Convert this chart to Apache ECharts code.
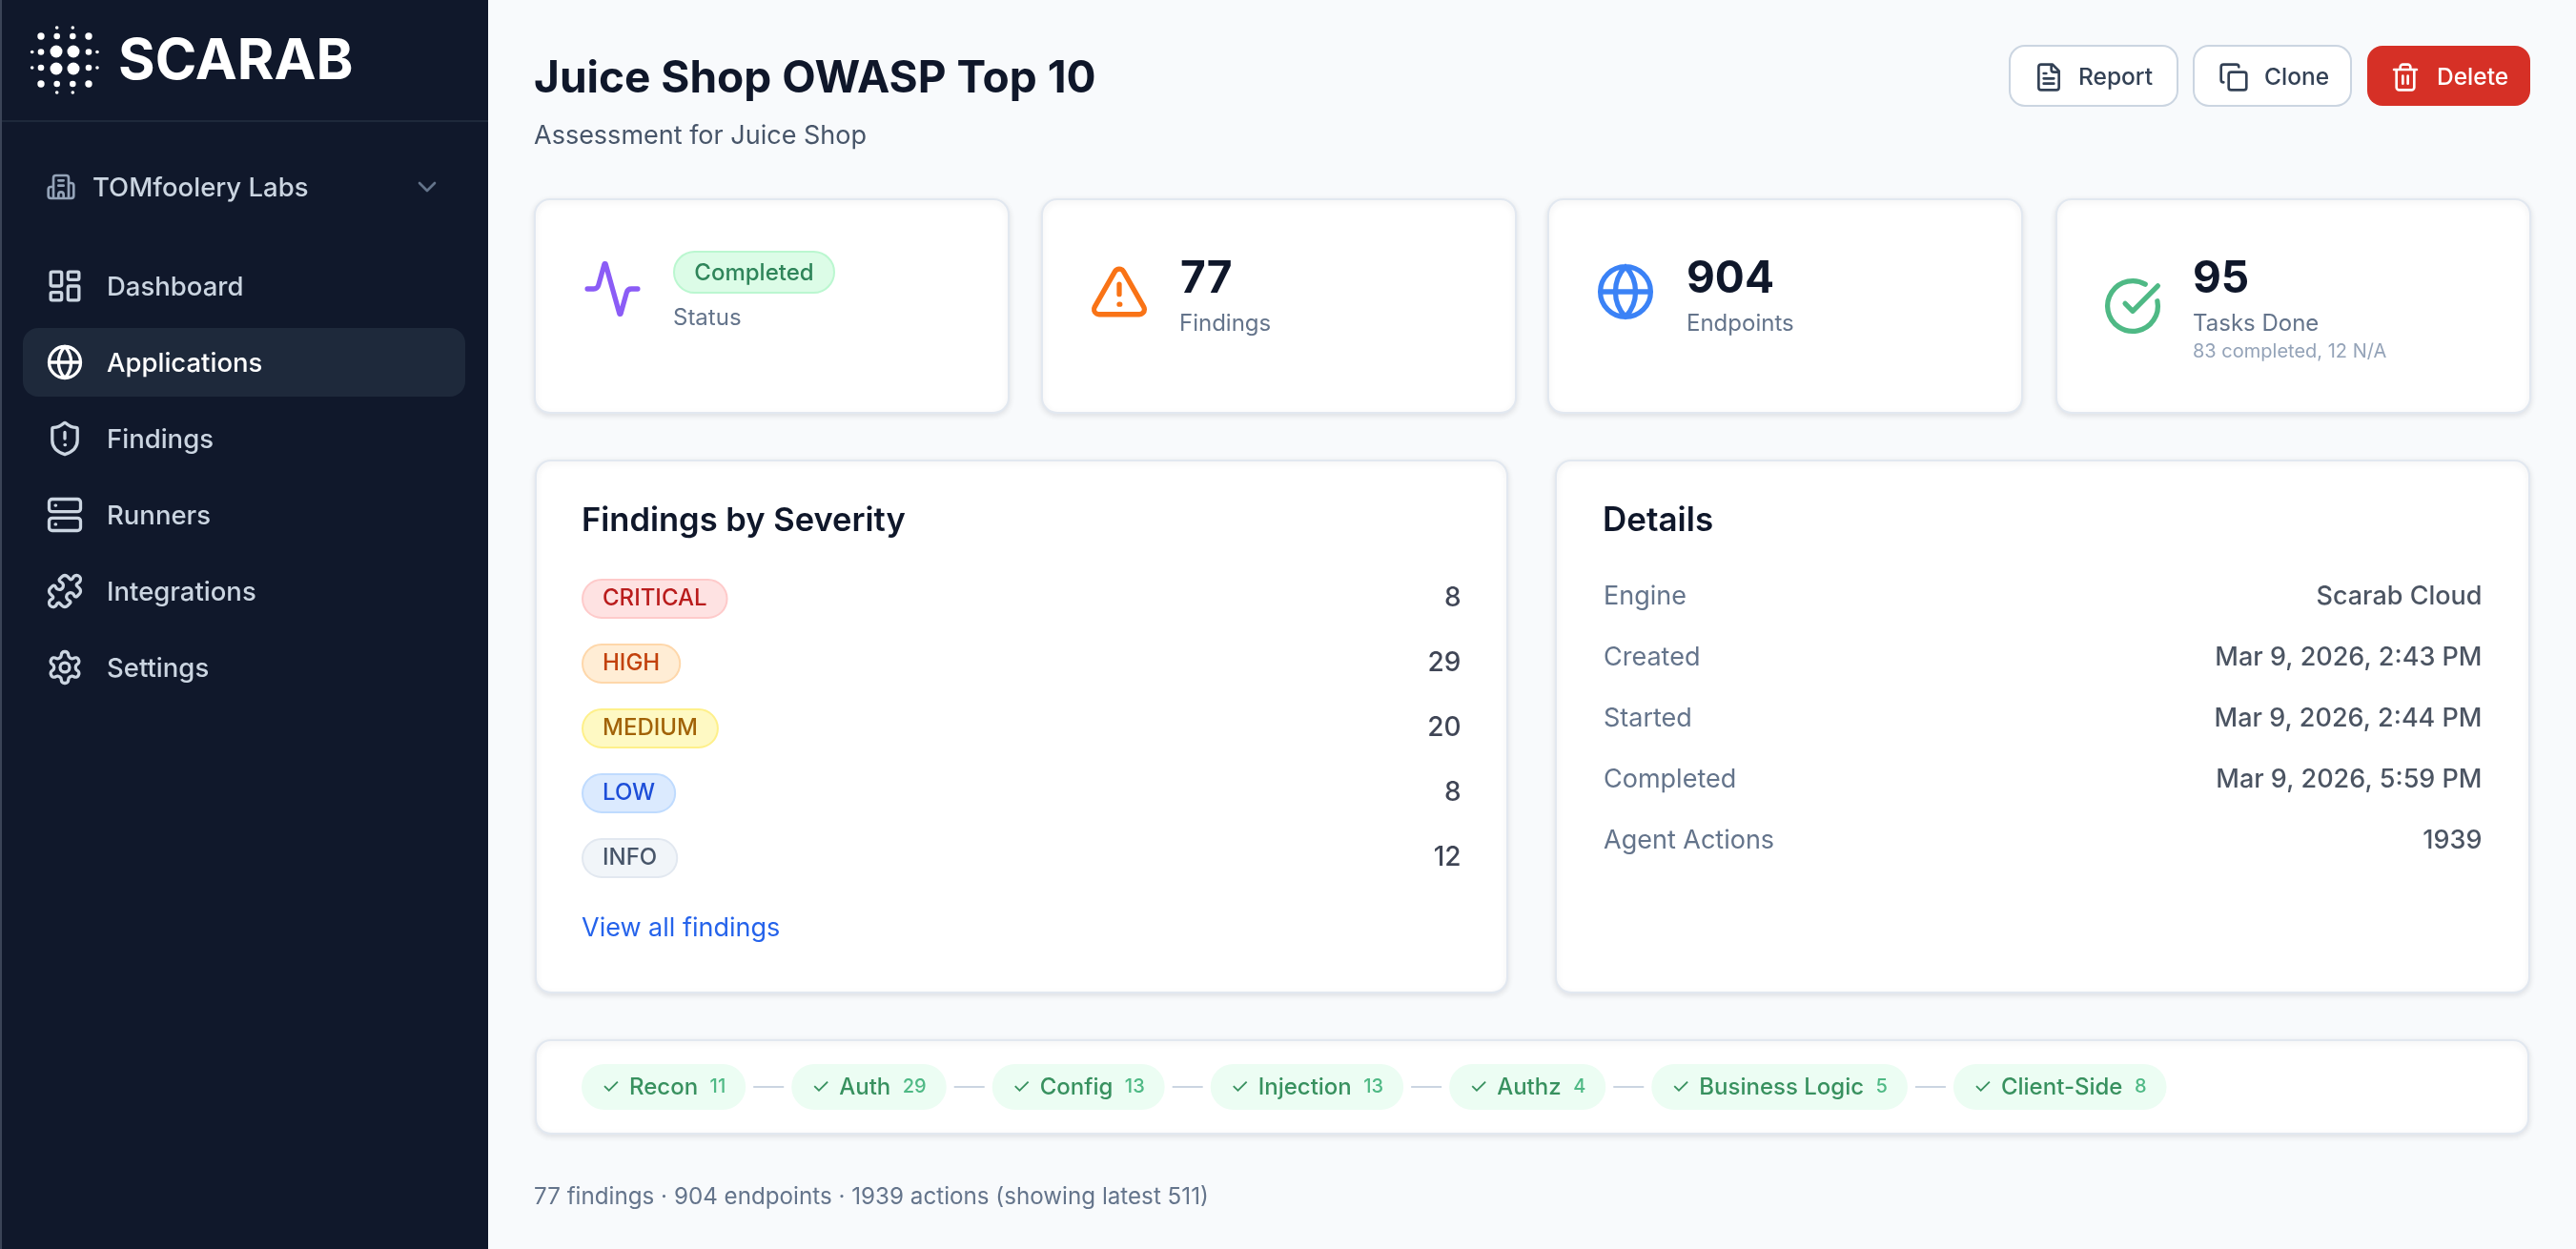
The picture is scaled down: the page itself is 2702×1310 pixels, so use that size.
<!DOCTYPE html>
<html>
<head>
<meta charset="utf-8">
<title>Juice Shop OWASP Top 10</title>
<script src="https://cdn.jsdelivr.net/npm/echarts@6/dist/echarts.min.js"></script>
<style>
html, body { margin: 0; padding: 0; background: #f8fafc; }
#main { width: 2702px; height: 1310px; }
</style>
</head>
<body>
<div id="main"></div>
<script>
const FONT = 'Inter';

// data
const navItems = ['Dashboard', 'Applications', 'Findings', 'Runners', 'Integrations', 'Settings'];
const navIcons = ['dashboard', 'globe', 'shield', 'server', 'puzzle', 'settings'];
const activeNav = 'Applications';

const statLabels = ['Status', 'Findings', 'Endpoints', 'Tasks Done'];
const statValues = ['Completed', 77, 904, 95];
const tasksNote = '83 completed, 12 N/A';

const severityLevels = ['CRITICAL', 'HIGH', 'MEDIUM', 'LOW', 'INFO'];
const severityCounts = [8, 29, 20, 8, 12];

const detailKeys = ['Engine', 'Created', 'Started', 'Completed', 'Agent Actions'];
const detailValues = ['Scarab Cloud', 'Mar 9, 2026, 2:43 PM', 'Mar 9, 2026, 2:44 PM', 'Mar 9, 2026, 5:59 PM', '1939'];

const stageNames = ['Recon', 'Auth', 'Config', 'Injection', 'Authz', 'Business Logic', 'Client-Side'];
const stageCounts = [11, 29, 13, 13, 4, 5, 8];
const actionsShown = 511;

const severityColors = {
    CRITICAL: ['#b91c1c', '#fee2e2', '#fecaca'],
    HIGH: ['#c2410c', '#ffedd5', '#fed7aa'],
    MEDIUM: ['#a16207', '#fef9c3', '#fef08a'],
    LOW: ['#1d4ed8', '#dbeafe', '#bfdbfe'],
    INFO: ['#475569', '#f1f5f9', '#e2e8f0']
};

const ICONS = {
    dashboard: 'M4 3h5a1 1 0 0 1 1 1v7a1 1 0 0 1-1 1H4a1 1 0 0 1-1-1V4a1 1 0 0 1 1-1z M15 3h5a1 1 0 0 1 1 1v3a1 1 0 0 1-1 1h-5a1 1 0 0 1-1-1V4a1 1 0 0 1 1-1z M15 12h5a1 1 0 0 1 1 1v7a1 1 0 0 1-1 1h-5a1 1 0 0 1-1-1v-7a1 1 0 0 1 1-1z M4 16h5a1 1 0 0 1 1 1v3a1 1 0 0 1-1 1H4a1 1 0 0 1-1-1v-3a1 1 0 0 1 1-1z',
    globe: 'M22 12a10 10 0 1 1-20 0 10 10 0 1 1 20 0z M12 2a14.5 14.5 0 0 0 0 20 14.5 14.5 0 0 0 0-20 M2 12h20',
    shield: 'M20 13c0 5-3.5 7.5-7.66 8.95a1 1 0 0 1-.67-.01C7.5 20.5 4 18 4 13V6a1 1 0 0 1 1-1c2 0 4.5-1.2 6.24-2.72a1.17 1.17 0 0 1 1.52 0C14.51 3.81 17 5 19 5a1 1 0 0 1 1 1z M12 8v4 M12 16h.3',
    server: 'M4 2h16a2 2 0 0 1 2 2v4a2 2 0 0 1-2 2H4a2 2 0 0 1-2-2V4a2 2 0 0 1 2-2z M4 14h16a2 2 0 0 1 2 2v4a2 2 0 0 1-2 2H4a2 2 0 0 1-2-2v-4a2 2 0 0 1 2-2z M6 6h.3 M6 18h.3',
    puzzle: 'M19.439 7.85c-.049.322.059.648.289.878l1.568 1.568c.47.47.706 1.087.706 1.704s-.235 1.233-.706 1.704l-1.611 1.611a.98.98 0 0 1-.837.276c-.47-.07-.802-.48-.968-.925a2.501 2.501 0 1 0-3.214 3.214c.446.166.855.497.925.968a.979.979 0 0 1-.276.837l-1.61 1.61a2.404 2.404 0 0 1-1.705.707 2.402 2.402 0 0 1-1.704-.706l-1.568-1.568a1.026 1.026 0 0 0-.877-.29c-.493.074-.84.504-1.02.968a2.5 2.5 0 1 1-3.237-3.237c.464-.18.894-.527.967-1.02a1.026 1.026 0 0 0-.289-.877l-1.568-1.568A2.402 2.402 0 0 1 1.998 12c0-.617.236-1.234.706-1.704L4.23 8.77c.24-.24.581-.353.917-.303.515.077.877.528 1.073 1.01a2.5 2.5 0 1 0 3.259-3.259c-.482-.196-.933-.558-1.01-1.073-.05-.336.062-.676.303-.917l1.525-1.525A2.402 2.402 0 0 1 12 1.998c.617 0 1.234.236 1.704.706l1.568 1.568c.23.23.556.338.877.29.493-.074.84-.504 1.02-.968a2.5 2.5 0 1 1 3.237 3.237c-.464.18-.894.527-.967 1.02z',
    settings: 'M12.22 2h-.44a2 2 0 0 0-2 2v.18a2 2 0 0 1-1 1.73l-.43.25a2 2 0 0 1-2 0l-.15-.08a2 2 0 0 0-2.73.73l-.22.38a2 2 0 0 0 .73 2.73l.15.1a2 2 0 0 1 1 1.72v.51a2 2 0 0 1-1 1.74l-.15.09a2 2 0 0 0-.73 2.73l.22.38a2 2 0 0 0 2.73.73l.15-.08a2 2 0 0 1 2 0l.43.25a2 2 0 0 1 1 1.73V20a2 2 0 0 0 2 2h.44a2 2 0 0 0 2-2v-.18a2 2 0 0 1 1-1.73l.43-.25a2 2 0 0 1 2 0l.15.08a2 2 0 0 0 2.73-.73l.22-.39a2 2 0 0 0-.73-2.73l-.15-.08a2 2 0 0 1-1-1.74v-.5a2 2 0 0 1 1-1.74l.15-.09a2 2 0 0 0 .73-2.73l-.22-.38a2 2 0 0 0-2.73-.73l-.15.08a2 2 0 0 1-2 0l-.43-.25a2 2 0 0 1-1-1.73V4a2 2 0 0 0-2-2z M15 12a3 3 0 1 1-6 0 3 3 0 1 1 6 0z',
    activity: 'M22 12h-2.48a2 2 0 0 0-1.93 1.46l-2.35 8.36a.25.25 0 0 1-.48 0L9.24 2.18a.25.25 0 0 0-.48 0l-2.35 8.36A2 2 0 0 1 4.49 12H2',
    triangle: 'M21.73 18l-8-14a2 2 0 0 0-3.48 0l-8 14A2 2 0 0 0 4 21h16a2 2 0 0 0 1.73-3 M12 9v4 M12 17h.3',
    check: 'M21.801 10A10 10 0 1 1 17 3.335 M9 11l3 3L22 4',
    file: 'M15 2H6a2 2 0 0 0-2 2v16a2 2 0 0 0 2 2h12a2 2 0 0 0 2-2V7z M14 2v4a2 2 0 0 0 2 2h4 M10 9H8 M16 13H8 M16 17H8',
    copy: 'M10 8h10a2 2 0 0 1 2 2v10a2 2 0 0 1-2 2H10a2 2 0 0 1-2-2V10a2 2 0 0 1 2-2z M4 16c-1.1 0-2-.9-2-2V4c0-1.1.9-2 2-2h10c1.1 0 2 .9 2 2',
    trash: 'M3 6h18 M19 6v14c0 1-1 2-2 2H7c-1 0-2-1-2-2V6 M8 6V4c0-1 1-2 2-2h4c1 0 2 1 2 2v2 M10 11v6 M14 11v6',
    building: 'M6 21V5a2 2 0 0 1 2-2h8a2 2 0 0 1 2 2v16 M6 12H4a2 2 0 0 0-2 2v5a2 2 0 0 0 2 2h16a2 2 0 0 0 2-2v-8a2 2 0 0 0-2-2h-2 M10 7h4 M10 11h4 M14 21v-3a2 2 0 0 0-4 0v3',
    chevron: 'M6 9l6 6 6-6'
};

// the graphic component has no plain path type, so each icon becomes a shape
Object.keys(ICONS).forEach(name => {
    echarts.graphic.registerShape('icon_' + name, echarts.graphic.extendPath(ICONS[name], {}));
});

const chart = echarts.init(document.getElementById('main'), null, { renderer: 'canvas', devicePixelRatio: 1 });
const els = [];

function rect(x, y, w, h, r, fill, extra) {
    els.push({ type: 'rect', z: -1, silent: true, shape: { x, y, width: w, height: h, r }, style: Object.assign({ fill }, extra) });
}

function text(str, x, y, size, weight, fill, align) {
    els.push({
        type: 'text', z: -1, silent: true, x, y: y + 2,
        style: { text: String(str), fontFamily: FONT, fontSize: size, fontWeight: weight, fill, align: align || 'left', verticalAlign: 'middle' }
    });
}

function icon(name, cx, cy, scale, color) {
    els.push({
        type: 'icon_' + name, z: -1, silent: true,
        x: cx - 12 * scale, y: cy - 12 * scale, scaleX: scale, scaleY: scale,
        style: { fill: 'none', stroke: color, lineWidth: 2, lineCap: 'round', lineJoin: 'round' }
    });
}

function card(x, y, w, h) {
    rect(x, y, w, h, 16, '#ffffff', {
        stroke: '#e2e8f0', lineWidth: 2,
        shadowBlur: 6, shadowOffsetY: 2, shadowColor: 'rgba(15,23,42,0.10)'
    });
}

function measure(str, size, weight) {
    const ctx = document.createElement('canvas').getContext('2d');
    ctx.font = weight + ' ' + size + 'px ' + FONT;
    return ctx.measureText(str).width;
}

// sidebar
rect(0, 0, 512, 1310, 0, '#10182b');
rect(0, 0, 2, 1310, 0, '#3b4457');
rect(2, 126, 510, 2, 0, '#1e293b');

const logoDots = [
    [59, 54, 6.5], [77, 54, 6.5], [59, 72, 6.5], [77, 72, 6.5],
    [43, 38, 3.7], [93, 38, 3.7], [43, 88, 3.7], [93, 88, 3.7],
    [59.7, 38, 3.3], [76.3, 38, 3.3], [59.7, 88, 3.3], [76.3, 88, 3.3],
    [43, 54.5, 3.3], [43, 71, 3.3], [93, 54.5, 3.3], [93, 71, 3.3],
    [59.7, 29, 1.8], [76.3, 29, 1.8], [59.7, 97, 1.8], [76.3, 97, 1.8],
    [33.7, 54.5, 1.8], [33.7, 71, 1.8], [102, 54.5, 1.8], [102, 71, 1.8]
];
logoDots.forEach(d => {
    els.push({ type: 'circle', z: -1, silent: true, shape: { cx: d[0], cy: d[1], r: d[2] }, style: { fill: '#ffffff' } });
});
text('SCARAB', 124, 63, 59, 700, '#ffffff');

icon('building', 64, 196, 1.33, '#94a3b8');
text('TOMfoolery Labs', 97, 196, 27.5, 500, '#cbd5e1');
icon('chevron', 448, 196, 1.33, '#64748b');

rect(24, 344, 464, 72, 16, '#1e293b');
navItems.forEach((name, i) => {
    const y = 300 + i * 80;
    const color = name === activeNav ? '#ffffff' : '#cbd5e1';
    icon(navIcons[i], 68, y, 1.65, color);
    text(name, 112, y, 27.5, 500, color);
});

// header
text('Juice Shop OWASP Top 10', 560, 81, 46, 700, '#0f172a');
text('Assessment for Juice Shop', 560, 141, 27, 400, '#475569');

rect(2108, 48, 176, 63, 16, '#ffffff', { stroke: '#cbd5e1', lineWidth: 2 });
icon('file', 2149, 81, 1.33, '#334155');
text('Report', 2180, 80, 24.5, 500, '#334155');
rect(2301, 48, 165, 63, 16, '#ffffff', { stroke: '#cbd5e1', lineWidth: 2 });
icon('copy', 2343, 81, 1.33, '#334155');
text('Clone', 2375, 80, 24.5, 500, '#334155');
rect(2483, 48, 171, 63, 16, '#d63026');
icon('trash', 2523, 81, 1.33, '#ffffff');
text('Delete', 2556, 80, 24.5, 500, '#ffffff');

// stat cards
const statCardX = [561, 1093, 1624, 2157];
statCardX.forEach(x => card(x, 209, 497, 224));

icon('activity', 642.5, 303, 2.64, '#8b5cf6');
rect(707, 264, 168, 43, 21.5, '#dcfce7', { stroke: '#bbf7d0', lineWidth: 2 });
text(statValues[0], 791, 285, 24, 500, '#2f855a', 'center');
text(statLabels[0], 706, 331.5, 24, 400, '#64748b');

icon('triangle', 1174, 306, 2.64, '#f97316');
text(statValues[1], 1238, 291.5, 46, 700, '#0f172a');
text(statLabels[1], 1237, 337.5, 24, 400, '#64748b');

icon('globe', 1705, 306, 2.64, '#3b82f6');
text(statValues[2], 1769, 291.5, 46, 700, '#0f172a');
text(statLabels[2], 1769, 337.5, 24, 400, '#64748b');

icon('check', 2237, 321, 2.64, '#4fb985');
text(statValues[3], 2300, 291.5, 46, 700, '#0f172a');
text(statLabels[3], 2300, 337.5, 24, 400, '#64748b');
text(tasksNote, 2300, 367, 20, 400, '#94a3b8');

// panels
card(562, 483, 1019, 558);
text('Findings by Severity', 610, 545, 34.5, 600, '#0f172a');
text('View all findings', 610, 972, 27, 400, '#2563eb');

card(1632, 483, 1021, 558);
text('Details', 1681, 544, 35, 600, '#0f172a');

// stage pipeline, laid out left to right from the measured labels
card(562, 1091, 2090, 98);
let stageX = 610;
stageNames.forEach((name, i) => {
    const labelW = measure(name, 24, 500);
    const countW = measure(String(stageCounts[i]), 20, 500);
    const pillW = 21 + 16 + 13 + labelW + 12.5 + countW + 21;
    rect(stageX, 1116, pillW, 48, 24, '#ecfdf3');
    text('✓', stageX + 21, 1138, 22, 400, '#38915f');
    text(name, stageX + 50, 1139, 24, 500, '#38915f');
    text(stageCounts[i], stageX + 50 + labelW + 12.5, 1138, 20, 500, '#4fb985');
    stageX += pillW;
    if (i < stageNames.length - 1) {
        rect(stageX + 8, 1139, 32, 2, 0, '#cbd5e1');
        stageX += 48;
    }
});

const totalFindings = severityCounts.reduce((a, b) => a + b, 0);
text(totalFindings + ' findings · ' + statValues[2] + ' endpoints · ' + detailValues[4] + ' actions (showing latest ' + actionsShown + ')',
    560, 1254, 24.2, 400, '#64748b');

const badgeRich = {};
severityLevels.forEach(level => {
    const c = severityColors[level];
    badgeRich[level] = {
        fontFamily: FONT, fontSize: 24, fontWeight: 500, lineHeight: 28,
        color: c[0], backgroundColor: c[1], borderColor: c[2], borderWidth: 2, borderRadius: 22,
        padding: [7, 20]
    };
});

function rowAxis(data, labelOpt, gridIndex) {
    return {
        type: 'category', gridIndex, data, inverse: true,
        axisLine: { show: false }, axisTick: { show: false }, splitLine: { show: false },
        axisLabel: Object.assign({ inside: true, margin: 0, align: 'left', interval: 0, hideOverlap: false }, labelOpt)
    };
}

function rowSeries(keys, values, gridIndex, labelOpt) {
    return {
        type: 'scatter', xAxisIndex: gridIndex, yAxisIndex: gridIndex,
        symbolSize: 1, itemStyle: { color: 'transparent' }, silent: true,
        data: keys.map((k, i) => [1, k, values[i]]),
        label: Object.assign({
            show: true, position: 'left', distance: 0, fontFamily: FONT,
            formatter: p => String(p.value[2])
        }, labelOpt)
    };
}

chart.setOption({
    animation: false,
    backgroundColor: '#f8fafc',
    grid: [
        { left: 612, top: 594, width: 921, height: 340 },
        { left: 1682, top: 594, width: 922, height: 320 }
    ],
    xAxis: [
        { type: 'value', gridIndex: 0, min: 0, max: 1, show: false },
        { type: 'value', gridIndex: 1, min: 0, max: 1, show: false }
    ],
    yAxis: [
        rowAxis(severityLevels, { formatter: v => '{' + v + '|' + v + '}', rich: badgeRich }, 0),
        rowAxis(detailKeys, { fontFamily: FONT, fontSize: 27, fontWeight: 400, color: '#64748b' }, 1)
    ],
    series: [
        rowSeries(severityLevels, severityCounts, 0, { fontSize: 28, fontWeight: 500, color: '#0f172a' }),
        rowSeries(detailKeys, detailValues, 1, { fontSize: 27, fontWeight: 500, color: '#1e293b' })
    ],
    graphic: { elements: els }
});
</script>
</body>
</html>
